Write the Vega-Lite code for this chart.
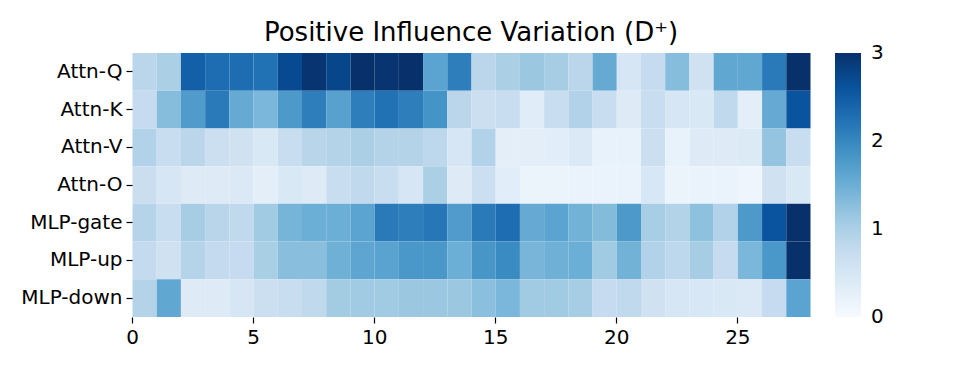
{
  "$schema": "https://vega.github.io/schema/vega-lite/v6.json",
  "autosize": "none",
  "width": 678,
  "height": 264,
  "padding": {"left": 132, "top": 53, "right": 167, "bottom": 49},
  "background": "white",
  "config": {"view": {"stroke": null}, "font": "DejaVu Sans"},
  "title": {"text": "Positive Influence Variation (D⁺)", "font": "DejaVu Sans", "fontSize": 26, "fontWeight": "normal", "color": "black", "anchor": "middle", "offset": 7},
  "datasets": {
    "cells": [
      {"m":"Attn-Q","l":0,"v":0.85},{"m":"Attn-Q","l":1,"v":1.0},{"m":"Attn-Q","l":2,"v":2.45},{"m":"Attn-Q","l":3,"v":2.3},{"m":"Attn-Q","l":4,"v":2.3},{"m":"Attn-Q","l":5,"v":2.25},{"m":"Attn-Q","l":6,"v":2.7},{"m":"Attn-Q","l":7,"v":2.95},{"m":"Attn-Q","l":8,"v":2.75},{"m":"Attn-Q","l":9,"v":3.0},{"m":"Attn-Q","l":10,"v":2.95},{"m":"Attn-Q","l":11,"v":3.0},{"m":"Attn-Q","l":12,"v":1.65},{"m":"Attn-Q","l":13,"v":2.1},{"m":"Attn-Q","l":14,"v":0.85},{"m":"Attn-Q","l":15,"v":1.0},{"m":"Attn-Q","l":16,"v":1.15},{"m":"Attn-Q","l":17,"v":1.05},{"m":"Attn-Q","l":18,"v":0.85},{"m":"Attn-Q","l":19,"v":1.55},{"m":"Attn-Q","l":20,"v":0.5},{"m":"Attn-Q","l":21,"v":0.75},{"m":"Attn-Q","l":22,"v":1.3},{"m":"Attn-Q","l":23,"v":0.6},{"m":"Attn-Q","l":24,"v":1.6},{"m":"Attn-Q","l":25,"v":1.6},{"m":"Attn-Q","l":26,"v":2.15},{"m":"Attn-Q","l":27,"v":3.0},
      {"m":"Attn-K","l":0,"v":0.75},{"m":"Attn-K","l":1,"v":1.3},{"m":"Attn-K","l":2,"v":1.75},{"m":"Attn-K","l":3,"v":2.15},{"m":"Attn-K","l":4,"v":1.55},{"m":"Attn-K","l":5,"v":1.38},{"m":"Attn-K","l":6,"v":1.78},{"m":"Attn-K","l":7,"v":2.1},{"m":"Attn-K","l":8,"v":1.67},{"m":"Attn-K","l":9,"v":2.1},{"m":"Attn-K","l":10,"v":2.25},{"m":"Attn-K","l":11,"v":2.1},{"m":"Attn-K","l":12,"v":1.85},{"m":"Attn-K","l":13,"v":0.85},{"m":"Attn-K","l":14,"v":0.65},{"m":"Attn-K","l":15,"v":0.7},{"m":"Attn-K","l":16,"v":0.35},{"m":"Attn-K","l":17,"v":0.7},{"m":"Attn-K","l":18,"v":0.95},{"m":"Attn-K","l":19,"v":0.7},{"m":"Attn-K","l":20,"v":0.38},{"m":"Attn-K","l":21,"v":0.7},{"m":"Attn-K","l":22,"v":0.5},{"m":"Attn-K","l":23,"v":0.45},{"m":"Attn-K","l":24,"v":0.8},{"m":"Attn-K","l":25,"v":0.3},{"m":"Attn-K","l":26,"v":1.55},{"m":"Attn-K","l":27,"v":2.6},
      {"m":"Attn-V","l":0,"v":0.95},{"m":"Attn-V","l":1,"v":0.7},{"m":"Attn-V","l":2,"v":0.85},{"m":"Attn-V","l":3,"v":0.65},{"m":"Attn-V","l":4,"v":0.6},{"m":"Attn-V","l":5,"v":0.45},{"m":"Attn-V","l":6,"v":0.7},{"m":"Attn-V","l":7,"v":0.88},{"m":"Attn-V","l":8,"v":0.92},{"m":"Attn-V","l":9,"v":1.0},{"m":"Attn-V","l":10,"v":0.92},{"m":"Attn-V","l":11,"v":0.92},{"m":"Attn-V","l":12,"v":0.83},{"m":"Attn-V","l":13,"v":0.5},{"m":"Attn-V","l":14,"v":0.95},{"m":"Attn-V","l":15,"v":0.3},{"m":"Attn-V","l":16,"v":0.3},{"m":"Attn-V","l":17,"v":0.33},{"m":"Attn-V","l":18,"v":0.42},{"m":"Attn-V","l":19,"v":0.22},{"m":"Attn-V","l":20,"v":0.22},{"m":"Attn-V","l":21,"v":0.65},{"m":"Attn-V","l":22,"v":0.22},{"m":"Attn-V","l":23,"v":0.38},{"m":"Attn-V","l":24,"v":0.38},{"m":"Attn-V","l":25,"v":0.4},{"m":"Attn-V","l":26,"v":1.2},{"m":"Attn-V","l":27,"v":0.7},
      {"m":"Attn-O","l":0,"v":0.68},{"m":"Attn-O","l":1,"v":0.5},{"m":"Attn-O","l":2,"v":0.37},{"m":"Attn-O","l":3,"v":0.37},{"m":"Attn-O","l":4,"v":0.42},{"m":"Attn-O","l":5,"v":0.3},{"m":"Attn-O","l":6,"v":0.45},{"m":"Attn-O","l":7,"v":0.38},{"m":"Attn-O","l":8,"v":0.7},{"m":"Attn-O","l":9,"v":0.8},{"m":"Attn-O","l":10,"v":0.7},{"m":"Attn-O","l":11,"v":0.5},{"m":"Attn-O","l":12,"v":1.0},{"m":"Attn-O","l":13,"v":0.38},{"m":"Attn-O","l":14,"v":0.65},{"m":"Attn-O","l":15,"v":0.33},{"m":"Attn-O","l":16,"v":0.18},{"m":"Attn-O","l":17,"v":0.18},{"m":"Attn-O","l":18,"v":0.2},{"m":"Attn-O","l":19,"v":0.2},{"m":"Attn-O","l":20,"v":0.2},{"m":"Attn-O","l":21,"v":0.48},{"m":"Attn-O","l":22,"v":0.17},{"m":"Attn-O","l":23,"v":0.2},{"m":"Attn-O","l":24,"v":0.2},{"m":"Attn-O","l":25,"v":0.14},{"m":"Attn-O","l":26,"v":0.6},{"m":"Attn-O","l":27,"v":0.45},
      {"m":"MLP-gate","l":0,"v":0.9},{"m":"MLP-gate","l":1,"v":0.7},{"m":"MLP-gate","l":2,"v":1.05},{"m":"MLP-gate","l":3,"v":0.88},{"m":"MLP-gate","l":4,"v":0.8},{"m":"MLP-gate","l":5,"v":1.1},{"m":"MLP-gate","l":6,"v":1.42},{"m":"MLP-gate","l":7,"v":1.5},{"m":"MLP-gate","l":8,"v":1.5},{"m":"MLP-gate","l":9,"v":1.65},{"m":"MLP-gate","l":10,"v":2.15},{"m":"MLP-gate","l":11,"v":2.1},{"m":"MLP-gate","l":12,"v":2.18},{"m":"MLP-gate","l":13,"v":1.75},{"m":"MLP-gate","l":14,"v":2.15},{"m":"MLP-gate","l":15,"v":2.3},{"m":"MLP-gate","l":16,"v":1.55},{"m":"MLP-gate","l":17,"v":1.65},{"m":"MLP-gate","l":18,"v":1.45},{"m":"MLP-gate","l":19,"v":1.32},{"m":"MLP-gate","l":20,"v":1.78},{"m":"MLP-gate","l":21,"v":1.03},{"m":"MLP-gate","l":22,"v":0.93},{"m":"MLP-gate","l":23,"v":1.25},{"m":"MLP-gate","l":24,"v":0.95},{"m":"MLP-gate","l":25,"v":1.78},{"m":"MLP-gate","l":26,"v":2.6},{"m":"MLP-gate","l":27,"v":3.0},
      {"m":"MLP-up","l":0,"v":0.77},{"m":"MLP-up","l":1,"v":0.6},{"m":"MLP-up","l":2,"v":0.9},{"m":"MLP-up","l":3,"v":0.77},{"m":"MLP-up","l":4,"v":0.75},{"m":"MLP-up","l":5,"v":1.02},{"m":"MLP-up","l":6,"v":1.28},{"m":"MLP-up","l":7,"v":1.28},{"m":"MLP-up","l":8,"v":1.47},{"m":"MLP-up","l":9,"v":1.62},{"m":"MLP-up","l":10,"v":1.66},{"m":"MLP-up","l":11,"v":1.8},{"m":"MLP-up","l":12,"v":1.8},{"m":"MLP-up","l":13,"v":1.5},{"m":"MLP-up","l":14,"v":1.82},{"m":"MLP-up","l":15,"v":1.95},{"m":"MLP-up","l":16,"v":1.4},{"m":"MLP-up","l":17,"v":1.47},{"m":"MLP-up","l":18,"v":1.5},{"m":"MLP-up","l":19,"v":1.1},{"m":"MLP-up","l":20,"v":1.45},{"m":"MLP-up","l":21,"v":0.95},{"m":"MLP-up","l":22,"v":0.83},{"m":"MLP-up","l":23,"v":1.05},{"m":"MLP-up","l":24,"v":0.75},{"m":"MLP-up","l":25,"v":1.38},{"m":"MLP-up","l":26,"v":1.8},{"m":"MLP-up","l":27,"v":3.0},
      {"m":"MLP-down","l":0,"v":0.92},{"m":"MLP-down","l":1,"v":1.6},{"m":"MLP-down","l":2,"v":0.38},{"m":"MLP-down","l":3,"v":0.38},{"m":"MLP-down","l":4,"v":0.5},{"m":"MLP-down","l":5,"v":0.65},{"m":"MLP-down","l":6,"v":0.7},{"m":"MLP-down","l":7,"v":0.8},{"m":"MLP-down","l":8,"v":1.08},{"m":"MLP-down","l":9,"v":1.1},{"m":"MLP-down","l":10,"v":1.1},{"m":"MLP-down","l":11,"v":1.15},{"m":"MLP-down","l":12,"v":1.15},{"m":"MLP-down","l":13,"v":1.15},{"m":"MLP-down","l":14,"v":1.27},{"m":"MLP-down","l":15,"v":1.38},{"m":"MLP-down","l":16,"v":1.1},{"m":"MLP-down","l":17,"v":1.1},{"m":"MLP-down","l":18,"v":1.05},{"m":"MLP-down","l":19,"v":0.75},{"m":"MLP-down","l":20,"v":0.8},{"m":"MLP-down","l":21,"v":0.6},{"m":"MLP-down","l":22,"v":0.5},{"m":"MLP-down","l":23,"v":0.48},{"m":"MLP-down","l":24,"v":0.45},{"m":"MLP-down","l":25,"v":0.42},{"m":"MLP-down","l":26,"v":0.75},{"m":"MLP-down","l":27,"v":1.65}
    ]
  },
  "data": {"name": "cells"},
  "mark": {"type": "rect", "strokeWidth": 0},
  "encoding": {
    "x": {
      "field": "l", "type": "quantitative",
      "bin": {"step": 1, "extent": [0, 28]},
      "scale": {"domain": [0, 28], "nice": false, "zero": false},
      "axis": {"values": [0, 5, 10, 15, 20, 25], "format": "d", "title": null, "grid": false, "domain": false,
               "tickSize": 6, "tickColor": "black", "tickWidth": 1.2, "labelFontSize": 20, "labelColor": "black",
               "labelFont": "DejaVu Sans", "labelPadding": 4, "labelFlush": false, "labelOverlap": false}
    },
    "y": {
      "field": "m", "type": "nominal",
      "sort": ["Attn-Q", "Attn-K", "Attn-V", "Attn-O", "MLP-gate", "MLP-up", "MLP-down"],
      "scale": {"paddingInner": 0, "paddingOuter": 0},
      "axis": {"title": null, "domain": false, "tickSize": 6, "tickColor": "black", "tickWidth": 1.2,
               "labelFontSize": 20, "labelColor": "black", "labelFont": "DejaVu Sans", "labelPadding": 4}
    },
    "color": {
      "field": "v", "type": "quantitative",
      "scale": {"domain": [0, 0.375, 0.75, 1.125, 1.5, 1.875, 2.25, 2.625, 3],
                "range": ["#f7fbff", "#deebf7", "#c6dbef", "#9ecae1", "#6baed6", "#4292c6", "#2171b5", "#08519c", "#08306b"],
                "interpolate": "rgb", "clamp": true},
      "legend": {"title": null, "orient": "none", "legendX": 703, "legendY": 0, "direction": "vertical",
                 "gradientLength": 264, "gradientThickness": 26, "gradientStrokeWidth": 0,
                 "values": [0, 1, 2, 3], "format": "d", "labelFontSize": 20, "labelColor": "black",
                 "labelFont": "DejaVu Sans", "labelOffset": 10, "padding": 0,
                 "encode": {"labels": {"update": {"baseline": {"value": "middle"}}}}}
    }
  }
}
